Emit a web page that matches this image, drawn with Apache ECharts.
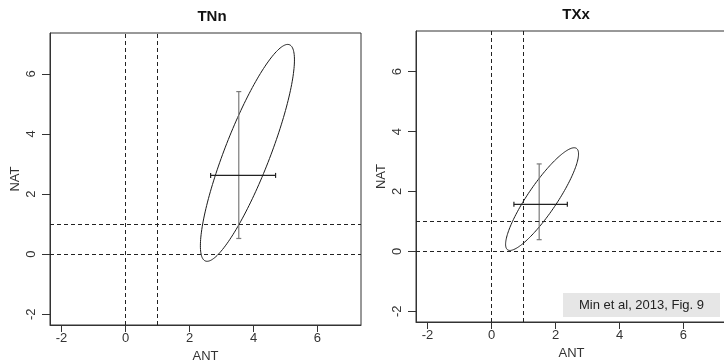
<!DOCTYPE html>
<html>
<head>
<meta charset="utf-8">
<script src="https://cdn.jsdelivr.net/npm/echarts@6/dist/echarts.min.js"></script>
<style>
  html, body { margin: 0; padding: 0; background: #fff; }
  #main { width: 724px; height: 363px; }
</style>
</head>
<body>
<div id="main"></div>
<script>
// panel titles
const panelTitles = ["TNn", "TXx"];
// tick labels on both axes
const tickValues = [-2, 0, 2, 4, 6];
const axisMin = -2.36;
const axisMax = 7.36;
// dashed reference lines (x and y)
const refLines = [0, 1];
// ellipse: centre x, centre y, half width, half height, tilt (cos of phase)
const ellipseTNn = [3.81, 3.37, 1.47, 3.61, 0.857];
const ellipseTXx = [1.58, 1.745, 1.14, 1.715, 0.88];
// cross: x, y, x low, x high, y low, y high
const crossTNn = [3.54, 2.62, 2.66, 4.69, 0.52, 5.41];
const crossTXx = [1.49, 1.57, 0.70, 2.37, 0.39, 2.92];

const font = "'Liberation Sans', Arial, sans-serif";

const chart = echarts.init(document.getElementById("main"));

function ellipseItem(params, api) {
  const cx = api.value(0), cy = api.value(1);
  const a = api.value(2), b = api.value(3);
  const phase = Math.acos(api.value(4));
  const pts = [];
  for (let i = 0; i < 180; i++) {
    const t = (i / 180) * Math.PI * 2;
    pts.push(api.coord([cx + a * Math.cos(t), cy + b * Math.cos(t - phase)]));
  }
  return {
    type: "polygon",
    shape: { points: pts },
    style: { stroke: "#1a1a1a", fill: null, lineWidth: 1 }
  };
}

function crossItem(params, api) {
  const c = api.coord([api.value(0), api.value(1)]);
  const xl = api.coord([api.value(2), api.value(1)]);
  const xh = api.coord([api.value(3), api.value(1)]);
  const yl = api.coord([api.value(0), api.value(4)]);
  const yh = api.coord([api.value(0), api.value(5)]);
  const cap = 2.5;
  const grey = { stroke: "#7a7a7a", lineWidth: 1.2 };
  const dark = { stroke: "#222", lineWidth: 1.2 };
  return {
    type: "group",
    children: [
      { type: "line", shape: { x1: c[0], y1: yl[1], x2: c[0], y2: yh[1] }, style: grey },
      { type: "line", shape: { x1: c[0] - cap, y1: yl[1], x2: c[0] + cap, y2: yl[1] }, style: grey },
      { type: "line", shape: { x1: c[0] - cap, y1: yh[1], x2: c[0] + cap, y2: yh[1] }, style: grey },
      { type: "line", shape: { x1: xl[0], y1: c[1], x2: xh[0], y2: c[1] }, style: dark },
      { type: "line", shape: { x1: xl[0], y1: c[1] - cap, x2: xl[0], y2: c[1] + cap }, style: dark },
      { type: "line", shape: { x1: xh[0], y1: c[1] - cap, x2: xh[0], y2: c[1] + cap }, style: dark }
    ]
  };
}

function xAxisFor(i) {
  return {
    gridIndex: i,
    type: "value",
    position: "bottom",
    min: axisMin,
    max: axisMax,
    name: "ANT",
    nameLocation: "middle",
    nameGap: 25,
    nameTextStyle: { fontFamily: font, fontSize: 13, color: "#333" },
    axisLine: { show: true, onZero: false, lineStyle: { color: "#333" } },
    axisTick: { show: true, inside: false, length: 7, customValues: tickValues, lineStyle: { color: "#333" } },
    axisLabel: { customValues: tickValues, margin: 7, fontFamily: font, fontSize: 13, color: "#333" },
    splitLine: { show: false }
  };
}

function yAxisFor(i) {
  return {
    gridIndex: i,
    type: "value",
    position: "left",
    min: axisMin,
    max: axisMax,
    name: "NAT",
    nameLocation: "middle",
    nameGap: 28,
    nameTextStyle: { fontFamily: font, fontSize: 13, color: "#333" },
    axisLine: { show: true, onZero: false, lineStyle: { color: "#333" } },
    axisTick: { show: true, inside: false, length: 8, customValues: tickValues, lineStyle: { color: "#333" } },
    axisLabel: { customValues: tickValues, rotate: 90, margin: 12, fontFamily: font, fontSize: 13, color: "#333" },
    splitLine: { show: false }
  };
}

function refSeries(i) {
  return {
    type: "line",
    xAxisIndex: i,
    yAxisIndex: i,
    data: [],
    markLine: {
      silent: true,
      symbol: "none",
      label: { show: false },
      lineStyle: { type: [4, 3], color: "#222", width: 1 },
      data: refLines.map(v => ({ xAxis: v })).concat(refLines.map(v => ({ yAxis: v })))
    }
  };
}

const option = {
  animation: false,
  title: [
    { text: panelTitles[0], left: 207, top: 4, textAlign: "center",
      textStyle: { fontFamily: font, fontSize: 15, fontWeight: "bold", color: "#111" } },
    { text: panelTitles[1], left: 571, top: 2, textAlign: "center",
      textStyle: { fontFamily: font, fontSize: 15, fontWeight: "bold", color: "#111" } }
  ],
  grid: [
    { left: 50, top: 33, width: 311, height: 292, show: true, borderColor: "#333", borderWidth: 1,
      backgroundColor: "transparent", containLabel: false, outerBoundsMode: "none" },
    { left: 416, top: 31, width: 311, height: 291, show: true, borderColor: "#333", borderWidth: 1,
      backgroundColor: "transparent", containLabel: false, outerBoundsMode: "none" }
  ],
  xAxis: [xAxisFor(0), xAxisFor(1)],
  yAxis: [yAxisFor(0), yAxisFor(1)],
  series: [
    refSeries(0),
    refSeries(1),
    { type: "custom", xAxisIndex: 0, yAxisIndex: 0, renderItem: ellipseItem, data: [ellipseTNn] },
    { type: "custom", xAxisIndex: 1, yAxisIndex: 1, renderItem: ellipseItem, data: [ellipseTXx] },
    { type: "custom", xAxisIndex: 0, yAxisIndex: 0, renderItem: crossItem, data: [crossTNn] },
    { type: "custom", xAxisIndex: 1, yAxisIndex: 1, renderItem: crossItem, data: [crossTXx] }
  ],
  graphic: [
    {
      type: "group",
      left: 563,
      top: 293,
      children: [
        { type: "rect", shape: { x: 0, y: 0, width: 157, height: 24 }, style: { fill: "#e6e6e6" } },
        { type: "text", x: 78.5, y: 12,
          style: { text: "Min et al, 2013, Fig. 9", fontFamily: font, fontSize: 13, fill: "#222", align: "center", verticalAlign: "middle" } }
      ]
    }
  ]
};

chart.setOption(option);
</script>
</body>
</html>
